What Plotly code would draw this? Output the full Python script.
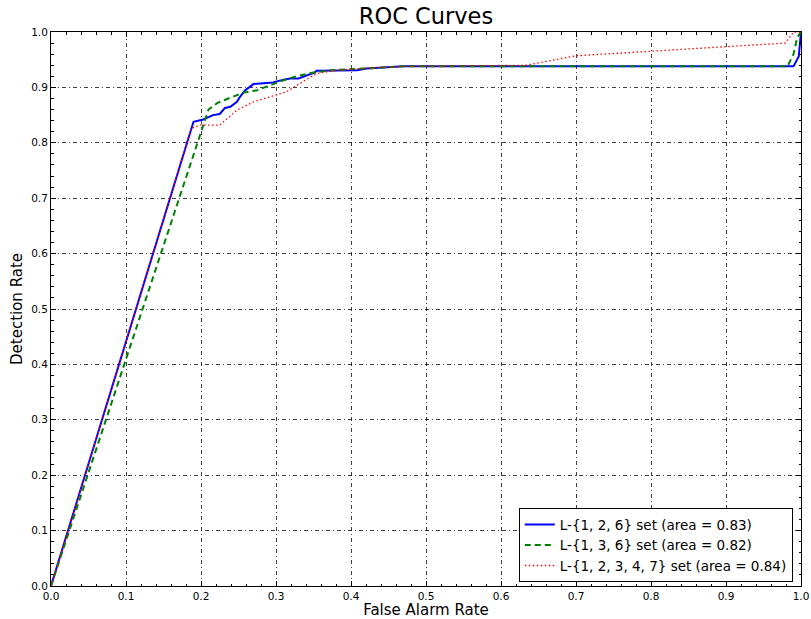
import plotly.graph_objects as go

# Blue: L-{1, 2, 6}
blue_x = [0, 0.19, 0.203, 0.216, 0.225, 0.232, 0.239, 0.248, 0.252, 0.259, 0.27, 0.296, 0.31, 0.319,
          0.33, 0.341, 0.352, 0.354, 0.385, 0.408, 0.421, 0.47, 0.99, 0.997, 1.0]
blue_y = [0, 0.838, 0.842, 0.85, 0.852, 0.863, 0.865, 0.874, 0.883, 0.895, 0.906, 0.909, 0.914, 0.916,
          0.916, 0.921, 0.927, 0.93, 0.931, 0.931, 0.934, 0.938, 0.938, 0.956, 1.0]

# Green: L-{1, 3, 6}
green_x = [0, 0.21, 0.222, 0.24, 0.255, 0.275, 0.29, 0.31, 0.33, 0.35, 0.375, 0.41, 0.47, 0.982,
           0.99, 0.995, 1.0]
green_y = [0, 0.86, 0.872, 0.882, 0.89, 0.895, 0.903, 0.913, 0.921, 0.927, 0.931, 0.934, 0.938, 0.938,
           0.96, 0.99, 1.0]

# Red: L-{1, 2, 3, 4, 7}
red_x = [0, 0.187, 0.199, 0.225, 0.236, 0.248, 0.27, 0.292, 0.314, 0.328, 0.354, 0.381, 0.41, 0.47,
         0.634, 0.699, 0.799, 0.899, 0.979, 0.99, 1.0]
red_y = [0, 0.826, 0.832, 0.832, 0.845, 0.859, 0.874, 0.883, 0.892, 0.904, 0.925, 0.931, 0.934, 0.938,
         0.94, 0.957, 0.965, 0.974, 0.98, 1.0, 1.0]

names = ["L-{1, 2, 6} set (area = 0.83)",
         "L-{1, 3, 6} set (area = 0.82)",
         "L-{1, 2, 3, 4, 7} set (area = 0.84)"]

tick_vals = [0.0, 0.1, 0.2, 0.3, 0.4, 0.5, 0.6, 0.7, 0.8, 0.9, 1.0]
tick_text = ["0.0", "0.1", "0.2", "0.3", "0.4", "0.5", "0.6", "0.7", "0.8", "0.9", "1.0"]

fig = go.Figure()
fig.add_trace(go.Scatter(x=blue_x, y=blue_y, mode="lines", name=names[0],
                         line=dict(color="#0000ff", width=2, dash="solid")))
fig.add_trace(go.Scatter(x=green_x, y=green_y, mode="lines", name=names[1],
                         line=dict(color="#008000", width=2, dash="6px,4px")))
fig.add_trace(go.Scatter(x=red_x, y=red_y, mode="lines", name=names[2],
                         line=dict(color="#ff0000", width=1.3, dash="1.5px,2.5px")))

axis_common = dict(
    range=[0, 1], tickvals=tick_vals, ticktext=tick_text, automargin=False,
    showgrid=True, gridcolor="rgba(0,0,0,0.75)", gridwidth=0.8, griddash="4px,3px,1px,3px",
    zeroline=False, showline=True, linecolor="black", linewidth=1, mirror="ticks",
    ticks="inside", ticklen=5, tickwidth=1, tickcolor="black",
    minor=dict(dtick=0.02, ticks="inside", ticklen=2.5, tickwidth=1, tickcolor="black", showgrid=False),
    tickfont=dict(family="DejaVu Sans", size=10.5, color="black"),
)

fig.update_layout(
    width=811, height=619,
    margin=dict(l=51, r=10, t=32, b=33),
    paper_bgcolor="white", plot_bgcolor="white",
    title=dict(text="ROC Curves", xref="paper", x=0.5, xanchor="center",
               yref="container", y=1 - 8 / 619, yanchor="top", pad=dict(b=0, t=0),
               font=dict(family="DejaVu Sans", size=22.5, color="black")),
    xaxis=dict(axis_common, title=dict(text="False Alarm Rate", standoff=8,
                                       font=dict(family="DejaVu Sans", size=15, color="black"))),
    yaxis=dict(axis_common, title=dict(text="Detection Rate", standoff=4,
                                       font=dict(family="DejaVu Sans", size=15, color="black"))),
    legend=dict(x=0.989, xanchor="right", y=0.007, yanchor="bottom",
                bgcolor="white", bordercolor="black", borderwidth=1,
                font=dict(family="DejaVu Sans", size=13.5, color="black"),
                itemwidth=30, tracegroupgap=0),
    showlegend=True,
)

fig.write_html("out.html", config={"displayModeBar": False},
               post_script="document.body.style.margin='0';document.body.style.overflow='hidden';")
